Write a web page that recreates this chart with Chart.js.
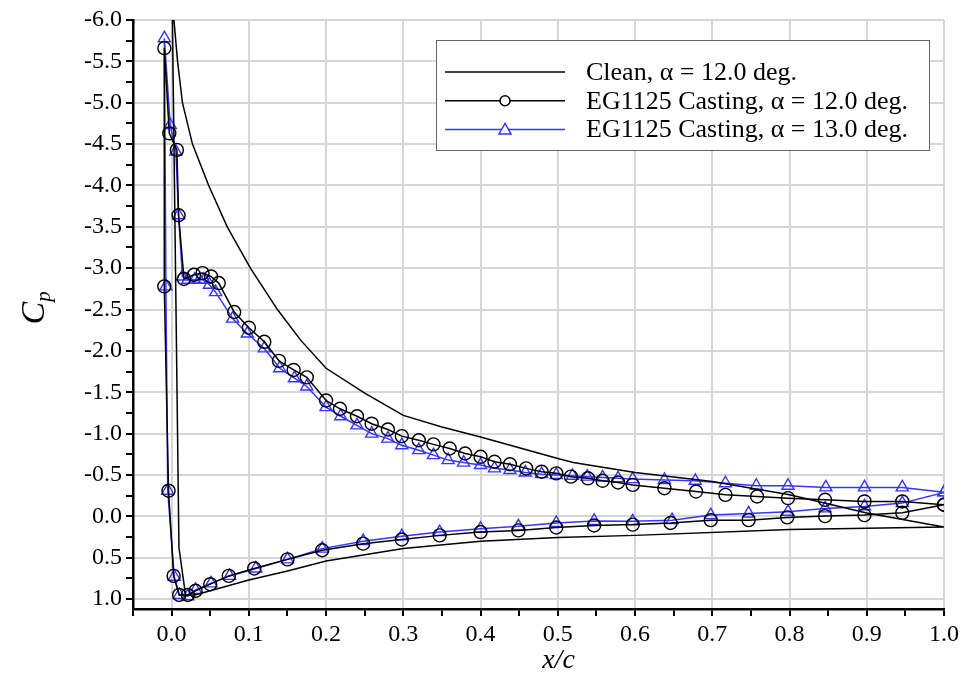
<!DOCTYPE html>
<html>
<head>
<meta charset="utf-8">
<title>Cp distribution</title>
<script src="https://cdn.jsdelivr.net/npm/chart.js@4"></script>
<style>
  html, body { margin: 0; padding: 0; background: #fff; }
  #wrap { width: 965px; height: 677px; }
</style>
</head>
<body>
<div id="wrap"><canvas id="cpChart" width="965" height="677"></canvas></div>
<script>
// clean airfoil, alpha = 12 deg (upper TE -> LE, then lower LE -> TE)
const cleanX = [1.0, 0.9, 0.8, 0.7, 0.6, 0.52, 0.5, 0.45, 0.4, 0.35, 0.3, 0.25, 0.2, 0.167, 0.137, 0.102, 0.072, 0.048, 0.027, 0.014, 0.0077, 0.003, 0.0,
  0.0095, 0.018, 0.03, 0.05, 0.1, 0.15, 0.2, 0.3, 0.4, 0.5, 0.6, 0.8, 1.0];
const cleanY = [0.13, -0.04, -0.26, -0.42, -0.53, -0.65, -0.70, -0.83, -0.96, -1.08, -1.22, -1.49, -1.79, -2.13, -2.5, -3.0, -3.5, -4.0, -4.5, -5.0, -5.5, -6.0, -6.8,
  0.38, 0.95, 0.95, 0.90, 0.77, 0.66, 0.54, 0.39, 0.30, 0.256, 0.23, 0.16, 0.13];

// EG1125 casting, alpha = 12 deg (circles)
const ice12X = [1.0, 0.946, 0.897, 0.846, 0.798, 0.758, 0.717, 0.679, 0.638, 0.597, 0.578, 0.558, 0.539, 0.517, 0.498, 0.479, 0.459, 0.438, 0.418, 0.40,
  0.38, 0.36, 0.339, 0.32, 0.298, 0.28, 0.259, 0.24, 0.218, 0.2, 0.175, 0.158, 0.139, 0.12, 0.10, 0.081, 0.061, 0.051, 0.04, 0.029, 0.016, 0.009, 0.0068,
  -0.003, -0.0094, -0.0095, -0.004,
  0.0026, 0.0098, 0.021, 0.031, 0.05, 0.074, 0.107, 0.15, 0.195, 0.248, 0.298, 0.347, 0.40, 0.449, 0.498, 0.547, 0.597, 0.646, 0.698, 0.747, 0.797,
  0.846, 0.897, 0.946, 1.0];
const ice12Y = [-0.14, -0.18, -0.18, -0.20, -0.22, -0.24, -0.26, -0.30, -0.34, -0.38, -0.41, -0.43, -0.46, -0.48, -0.52, -0.54, -0.58, -0.63, -0.66, -0.72,
  -0.76, -0.82, -0.87, -0.92, -0.97, -1.05, -1.12, -1.21, -1.30, -1.40, -1.68, -1.77, -1.88, -2.11, -2.28, -2.47, -2.82, -2.90, -2.94, -2.92, -2.87, -3.64, -4.43,
  -4.63, -5.66, -2.78, -0.31,
  0.72, 0.95, 0.95, 0.90, 0.82, 0.72, 0.63, 0.52, 0.41, 0.33, 0.28, 0.23, 0.19, 0.17, 0.135, 0.11, 0.10, 0.08, 0.046, 0.046, 0.013,
  -0.003, -0.015, -0.043, -0.14];

// EG1125 casting, alpha = 13 deg (triangles)
const ice13X = [1.0, 0.946, 0.897, 0.847, 0.798, 0.757, 0.717, 0.678, 0.638, 0.597, 0.578, 0.558, 0.538, 0.519, 0.498, 0.479, 0.458, 0.438, 0.418, 0.40,
  0.378, 0.358, 0.339, 0.32, 0.298, 0.28, 0.259, 0.24, 0.219, 0.2, 0.175, 0.159, 0.14, 0.12, 0.098, 0.079, 0.057, 0.049, 0.042, 0.036, 0.03, 0.021, 0.014,
  0.009, 0.0055, -0.0018, -0.0094, -0.0074, -0.005,
  0.0034, 0.01, 0.021, 0.031, 0.051, 0.075, 0.109, 0.15, 0.195, 0.248, 0.298, 0.347, 0.40, 0.449, 0.498, 0.547, 0.597, 0.648, 0.698, 0.747, 0.798,
  0.846, 0.897, 0.946, 1.0];
const ice13Y = [-0.29, -0.35, -0.35, -0.35, -0.37, -0.37, -0.40, -0.43, -0.44, -0.45, -0.46, -0.47, -0.48, -0.49, -0.50, -0.51, -0.53, -0.56, -0.58, -0.62,
  -0.65, -0.68, -0.74, -0.80, -0.86, -0.94, -1.00, -1.10, -1.21, -1.32, -1.57, -1.67, -1.79, -2.03, -2.21, -2.39, -2.71, -2.80, -2.86, -2.86, -2.86, -2.86, -2.90,
  -3.64, -4.41, -4.73, -5.78, -2.78, -0.31,
  0.73, 0.95, 0.965, 0.89, 0.81, 0.72, 0.63, 0.52, 0.39, 0.30, 0.24, 0.19, 0.15, 0.12, 0.08, 0.055, 0.06, 0.046, -0.015, -0.035, -0.055,
  -0.096, -0.12, -0.16, -0.29];

const LABELS = ['Clean, \u03b1 = 12.0 deg.', 'EG1125 Casting, \u03b1 = 12.0 deg.', 'EG1125 Casting, \u03b1 = 13.0 deg.'];
const BLUE = '#3535ff';
const FONT = '"Liberation Serif", "Times New Roman", serif';

function pts(xs, ys) { return xs.map((x, i) => ({ x: x, y: ys[i] })); }
function isMajor(v, step) { const k = Math.round(v / step); return Math.abs(v - k * step) < 1e-6; }

// boxed legend inside the plot, like the original
const boxLegend = {
  id: 'boxLegend',
  afterDatasetsDraw(chart) {
    const ctx = chart.ctx;
    const bx = 436, by = 40, bw = 493, bh = 110;
    ctx.save();
    ctx.fillStyle = '#fff';
    ctx.fillRect(bx, by, bw, bh);
    ctx.strokeStyle = '#666';
    ctx.lineWidth = 1;
    ctx.strokeRect(bx + 0.5, by + 0.5, bw, bh);
    ctx.font = '26px ' + FONT;
    ctx.textBaseline = 'middle';
    chart.data.datasets.forEach((ds, i) => {
      const y = 72 + i * 28.7;
      ctx.strokeStyle = ds.borderColor;
      ctx.lineWidth = 1.5;
      ctx.beginPath(); ctx.moveTo(445, y); ctx.lineTo(565, y); ctx.stroke();
      if (ds.pointStyle === 'circle') {
        ctx.fillStyle = '#fff';
        ctx.beginPath(); ctx.arc(505, y, 5, 0, Math.PI * 2); ctx.fill(); ctx.stroke();
      } else if (ds.pointStyle === 'triangle') {
        ctx.fillStyle = '#fff';
        ctx.beginPath(); ctx.moveTo(505, y - 6); ctx.lineTo(511, y + 4.5); ctx.lineTo(499, y + 4.5); ctx.closePath();
        ctx.fill(); ctx.stroke();
      }
      ctx.fillStyle = '#000';
      ctx.fillText(ds.label, 586, y + 1);
    });
    ctx.restore();
  }
};

// axis titles: italic x/c and C with subscript p
const axisTitles = {
  id: 'axisTitles',
  afterDraw(chart) {
    const ctx = chart.ctx;
    const a = chart.chartArea;
    ctx.save();
    ctx.fillStyle = '#000';
    ctx.textBaseline = 'alphabetic';
    ctx.textAlign = 'center';
    ctx.font = 'italic 28px ' + FONT;
    ctx.fillText('x/c', (a.left + a.right) / 2 + 20, 668);

    ctx.translate(44, (a.top + a.bottom) / 2 - 8);
    ctx.rotate(-Math.PI / 2);
    ctx.textAlign = 'left';
    ctx.font = 'italic 34px ' + FONT;
    ctx.fillText('C', -18, 0);
    const w = ctx.measureText('C').width;
    ctx.font = 'italic 21px ' + FONT;
    ctx.fillText('p', -18 + w, 6);
    ctx.restore();
  }
};

const ctx = document.getElementById('cpChart').getContext('2d');
new Chart(ctx, {
  type: 'scatter',
  data: {
    datasets: [
      { label: LABELS[0], data: pts(cleanX, cleanY), showLine: true, borderColor: '#000', borderWidth: 1.5,
        pointRadius: 0, pointStyle: false, backgroundColor: '#000' },
      { label: LABELS[1], data: pts(ice12X, ice12Y), showLine: true, borderColor: '#000', borderWidth: 1.5,
        pointStyle: 'circle', pointRadius: 6.5, pointBorderWidth: 1.4, pointBorderColor: '#000', pointBackgroundColor: 'rgba(0,0,0,0)' },
      { label: LABELS[2], data: pts(ice13X, ice13Y), showLine: true, borderColor: BLUE, borderWidth: 1.5,
        pointStyle: 'triangle', pointRadius: 7, pointBorderWidth: 1.4, pointBorderColor: BLUE, pointBackgroundColor: 'rgba(0,0,0,0)' }
    ]
  },
  options: {
    responsive: false,
    animation: false,
    layout: { padding: { top: 20, right: 21, left: 0, bottom: 0 } },
    plugins: { legend: { display: false }, tooltip: { enabled: false } },
    scales: {
      x: {
        type: 'linear', min: -0.05, max: 1.0,
        afterFit: s => { s.height = 68; },
        ticks: {
          stepSize: 0.05, autoSkip: false, maxRotation: 0, padding: 4,
          color: '#000', font: { family: FONT, size: 24 },
          callback: v => isMajor(v, 0.1) ? (Math.abs(v) < 1e-9 ? 0 : v).toFixed(1) : ''
        },
        grid: {
          color: c => (c.tick && isMajor(c.tick.value, 0.1) && c.tick.value > -0.01) ? '#d6d6d6' : 'rgba(0,0,0,0)',
          lineWidth: 2, tickColor: '#000', tickWidth: 2, tickLength: 7
        },
        border: { color: '#000', width: 2.5 }
      },
      y: {
        type: 'linear', min: -6.0, max: 1.12, reverse: true,
        afterFit: s => { s.width = 133; },
        ticks: {
          stepSize: 0.25, autoSkip: false, includeBounds: false, padding: 4,
          color: '#000', font: { family: FONT, size: 24 },
          callback: v => isMajor(v, 0.5) ? (Math.abs(v) < 1e-9 ? 0 : v).toFixed(1) : ''
        },
        grid: {
          color: c => (c.tick && isMajor(c.tick.value, 0.5)) ? '#d6d6d6' : 'rgba(0,0,0,0)',
          lineWidth: 2, tickColor: '#000', tickWidth: 2, tickLength: 7
        },
        border: { color: '#000', width: 2.5 }
      }
    }
  },
  plugins: [boxLegend, axisTitles]
});
</script>
</body>
</html>
